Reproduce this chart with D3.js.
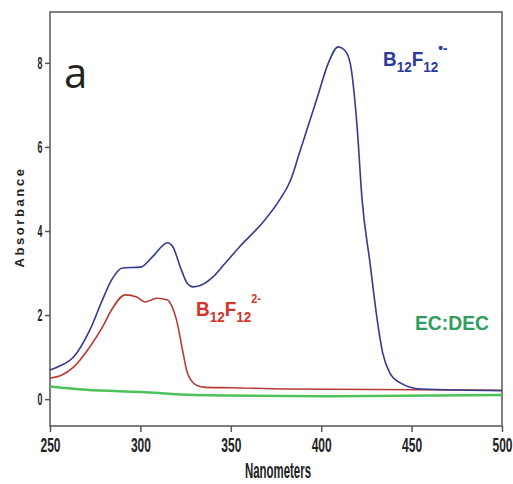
<!DOCTYPE html>
<html>
<head>
<meta charset="utf-8">
<script src="https://cdn.jsdelivr.net/npm/d3@7"></script>
<style>
  body { margin: 0; background: #fff; }
  svg { display: block; }
</style>
</head>
<body>
<svg id="canvas" width="513" height="484"></svg>
<script>
// wavelengths (nm) and absorbance
let blueNm  = [250, 255, 263, 272, 279, 284, 290, 300, 307, 315, 318, 322, 326, 329, 333, 340, 346, 355, 368, 377, 383, 388, 398, 404, 409.4, 413, 416, 420, 422.5, 427, 431, 434, 438, 444, 455, 500]
let blueAbs = [0.69, 0.78, 1.0, 1.64, 2.36, 2.83, 3.12, 3.14, 3.4, 3.72, 3.62, 3.15, 2.75, 2.67, 2.7, 2.9, 3.19, 3.63, 4.22, 4.74, 5.2, 5.86, 7.2, 8.0, 8.38, 8.3, 8.0, 6.4, 4.8, 3.24, 1.88, 1.1, 0.62, 0.38, 0.24, 0.2]

let redNm  = [250, 256, 263, 272, 279, 284, 291.6, 298, 302.5, 309, 315, 317.5, 320, 323.6, 326, 331, 336, 350, 380, 500]
let redAbs = [0.5, 0.56, 0.76, 1.24, 1.71, 2.12, 2.48, 2.43, 2.31, 2.4, 2.36, 2.2, 1.88, 1.1, 0.62, 0.33, 0.28, 0.27, 0.24, 0.21]

let greenNm  = [250, 270, 300, 330, 400, 500]
let greenAbs = [0.3, 0.22, 0.17, 0.1, 0.07, 0.1]

let xTicks = [250, 300, 350, 400, 450, 500]
let yTicks = [0, 2, 4, 6, 8]

let canvas = d3.select('#canvas')

let x = d3.scaleLinear().domain([250, 500]).range([50, 502])
let y = d3.scaleLinear().domain([-0.64, 9.21]).range([426, 12])

let tickFont = "'Liberation Sans', Arial, sans-serif"

// frame
canvas.append('rect')
    .attr('x', 50).attr('y', 12)
    .attr('width', 452).attr('height', 414)
    .attr('fill', 'none')
    .style('stroke', '#555')
    .style('stroke-width', '1.5px')

let xAxis = canvas.append('g')
    .attr('transform', 'translate(0,426)')
    .call(d3.axisBottom(x).tickValues(xTicks).tickSize(6).tickSizeOuter(0))
let yAxis = canvas.append('g')
    .attr('transform', 'translate(50,0)')
    .call(d3.axisLeft(y).tickValues(yTicks).tickSize(5).tickSizeOuter(0))

for (let ax of [xAxis, yAxis]) {
    ax.select('.domain').remove()
    ax.selectAll('line').style('stroke', '#555').style('stroke-width', '1.5px')
    ax.selectAll('text')
        .style('font-family', tickFont)
        .style('font-weight', 'bold')
        .attr('fill', '#222')
}
// squeeze tick labels to the narrow look of the original
xAxis.selectAll('text').attr('y', 0).attr('dy', 0)
    .style('font-size', '20px')
    .attr('transform', 'translate(0,26) scale(0.6,1)')
yAxis.selectAll('text').attr('x', 0).attr('dy', '0.35em')
    .style('font-size', '16px')
    .attr('text-anchor', 'middle')
    .attr('transform', 'translate(-10,0) scale(0.55,1)')

// axis titles
canvas.append('text')
    .attr('transform', 'translate(278,478) scale(0.52,1)')
    .attr('text-anchor', 'middle')
    .style('font-family', tickFont)
    .style('font-weight', 'bold')
    .style('font-size', '22px')
    .attr('fill', '#222')
    .text('Nanometers')

canvas.append('text')
    .attr('transform', 'translate(24,217) rotate(-90)')
    .attr('text-anchor', 'middle')
    .style('font-family', tickFont)
    .style('font-weight', 'bold')
    .style('font-size', '13px')
    .style('letter-spacing', '2.6px')
    .attr('fill', '#222')
    .text('Absorbance')

// spectra
let line = d3.line().curve(d3.curveMonotoneX)
let drawSpectrum = (nm, abs, colour, width) => {
    canvas.append('path')
        .attr('d', line(nm.map((v, i) => [x(v), y(abs[i])])))
        .attr('fill', 'none')
        .style('stroke', colour)
        .style('stroke-width', width)
}
drawSpectrum(greenNm, greenAbs, '#4cc35a', '2.5px')
drawSpectrum(redNm, redAbs, '#b83a35', '1.6px')
drawSpectrum(blueNm, blueAbs, '#353a8e', '1.6px')

// panel letter
canvas.append('text')
    .attr('x', 64).attr('y', 88)
    .style('font-family', "'Open Sans', sans-serif")
    .style('font-size', '42px')
    .attr('fill', '#222')
    .text('a')

// labels
let label = (xp, yp, colour, sup, supSize) => {
    let t = canvas.append('text')
        .attr('transform', `translate(${xp},${yp}) scale(0.9,1)`)
        .style('font-family', tickFont)
        .style('font-weight', 'bold')
        .style('font-size', '21px')
        .attr('fill', colour)
    t.append('tspan').text('B')
    t.append('tspan').attr('dy', 6).style('font-size', '15px').text('12')
    t.append('tspan').attr('dy', -6).text('F')
    t.append('tspan').attr('dy', 6).style('font-size', '15px').text('12')
    t.append('tspan').attr('dy', -19).style('font-size', supSize).text(sup)
}
label(383, 66, '#2a3b9c', '•-', '15px')
label(196, 316, '#d2332b', '2-', '12px')

canvas.append('text')
    .attr('transform', 'translate(415,330) scale(0.92,1)')
    .style('font-family', tickFont)
    .style('font-weight', 'bold')
    .style('font-size', '21px')
    .attr('fill', '#2f9e5c')
    .text('EC:DEC')
</script>
</body>
</html>
